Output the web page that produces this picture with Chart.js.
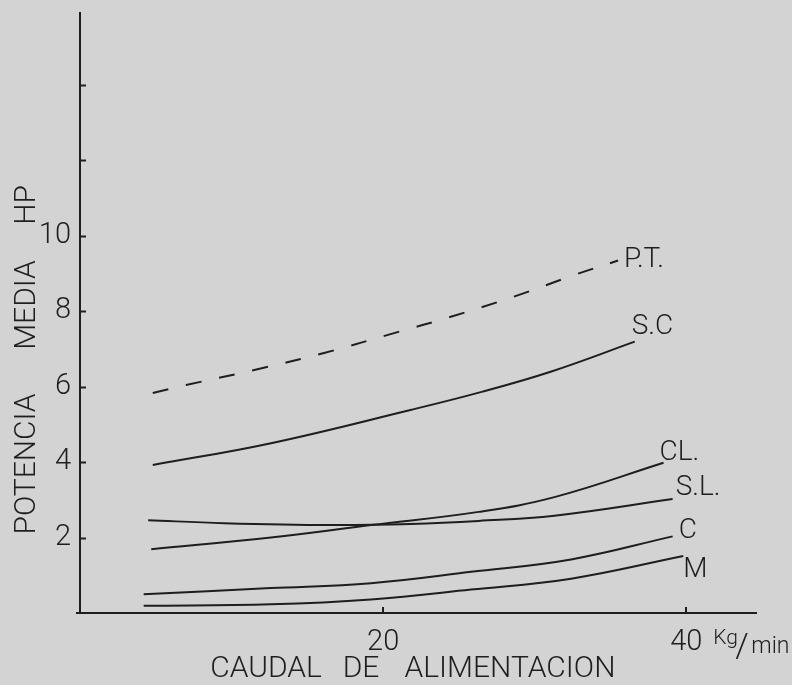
<!DOCTYPE html>
<html>
<head>
<meta charset="utf-8">
<script src="https://cdn.jsdelivr.net/npm/chart.js@4/dist/chart.umd.min.js"></script>
<style>
  html, body { margin: 0; padding: 0; background: #d3d3d3; }
  canvas { display: block; }
</style>
</head>
<body>
<canvas id="chart" width="792" height="685"></canvas>
<script>
// Values (x in Kg/min, y in HP)
const ptX = [4.8, 7.0, 11.5, 16.1, 21.0, 24.3, 28.6, 32.7, 35.5];
const ptY = [5.83, 6.04, 6.44, 6.89, 7.45, 7.83, 8.38, 8.97, 9.34];

const scX = [4.8, 12.6, 21.8, 26.5, 31.1, 36.6];
const scY = [3.92, 4.5, 5.38, 5.86, 6.4, 7.19];

const clX = [4.7, 12.6, 19.2, 26.3, 31.3, 38.5];
const clY = [1.69, 2.0, 2.33, 2.68, 3.07, 3.98];

const slX = [4.5, 9.5, 16.5, 21.8, 26.3, 31.3, 39.1];
const slY = [2.46, 2.38, 2.33, 2.36, 2.44, 2.58, 3.02];

const cX = [4.2, 12.6, 19.2, 25.8, 32.4, 39.1];
const cY = [0.5, 0.66, 0.79, 1.09, 1.42, 2.03];

const mX = [4.2, 12.6, 19.2, 25.8, 32.4, 39.8];
const mY = [0.19, 0.23, 0.36, 0.62, 0.91, 1.51];

const seriesNames = ['P.T.', 'S.C', 'CL.', 'S.L.', 'C', 'M'];
const xTicks = [20, 40];
const yTicks = [2, 4, 6, 8, 10, 12, 14];
const yTickLabels = [2, 4, 6, 8, 10];
const xTitleWords = ['CAUDAL', 'DE', 'ALIMENTACION'];
const yTitleWords = ['POTENCIA', 'MEDIA', 'HP'];

const ink = '#1e1e1e';
const font = 'Roboto, "DejaVu Sans", sans-serif';

function points(xs, ys) {
    return xs.map((x, i) => ({ x: x, y: ys[i] }));
}

// where each end label sits relative to its line's last point
const labelOffsets = [[6, -1], [-3, -15], [-4, -10], [3, -11], [6, -5], [0, 14]];
// word centres of the hand-lettered axis titles
const xTitlePos = [266, 361, 510];
const yTitlePos = [464, 305, 205];

const decorations = {
    id: 'decorations',
    beforeDraw(chart) {
        const ctx = chart.ctx;
        ctx.save();
        ctx.fillStyle = '#d3d3d3';
        ctx.fillRect(0, 0, chart.width, chart.height);
        ctx.restore();
    },
    afterDraw(chart) {
        const ctx = chart.ctx;
        const xs = chart.scales.x;
        const ys = chart.scales.y;
        const area = chart.chartArea;
        ctx.save();
        ctx.strokeStyle = ink;
        ctx.lineWidth = 2;

        // x axis runs a little past the y axis on the left
        ctx.beginPath();
        ctx.moveTo(area.left - 4, area.bottom);
        ctx.lineTo(area.left, area.bottom);
        ctx.stroke();

        // tick marks point into the plot
        yTicks.forEach(v => {
            const py = Math.round(ys.getPixelForValue(v)) + 0.5;
            ctx.beginPath();
            ctx.moveTo(area.left, py);
            ctx.lineTo(area.left + 6, py);
            ctx.stroke();
        });
        xTicks.forEach(v => {
            const px = Math.round(xs.getPixelForValue(v));
            ctx.beginPath();
            ctx.moveTo(px, area.bottom);
            ctx.lineTo(px, area.bottom - 6);
            ctx.stroke();
        });

        ctx.fillStyle = ink;

        // labels at the end of each curve
        ctx.font = '300 28px ' + font;
        ctx.textAlign = 'left';
        ctx.textBaseline = 'middle';
        chart.data.datasets.forEach((ds, i) => {
            const pts = chart.getDatasetMeta(i).data;
            const last = pts[pts.length - 1];
            ctx.fillText(seriesNames[i], last.x + labelOffsets[i][0], last.y + labelOffsets[i][1]);
        });

        // unit after the 40 tick
        const x40 = xs.getPixelForValue(40);
        ctx.textBaseline = 'alphabetic';
        ctx.font = '300 21px ' + font;
        ctx.fillText('Kg', x40 + 27, 644);
        ctx.font = '300 34px ' + font;
        ctx.fillText('/', x40 + 49, 657);
        ctx.font = '300 23px ' + font;
        ctx.fillText('min', x40 + 65, 653);

        // axis titles
        ctx.font = '300 30px ' + font;
        ctx.textAlign = 'center';
        ctx.textBaseline = 'middle';
        xTitleWords.forEach((w, i) => ctx.fillText(w, xTitlePos[i], 669));

        ctx.rotate(-Math.PI / 2);
        yTitleWords.forEach((w, i) => ctx.fillText(w, -yTitlePos[i], 27));
        ctx.restore();
    }
};

function lineSet(xs, ys, dashed) {
    return {
        data: points(xs, ys),
        borderColor: ink,
        borderWidth: 2,
        borderDash: dashed ? [16, 18] : [],
        pointRadius: 0,
        fill: false,
        tension: 0.4
    };
}

new Chart(document.getElementById('chart'), {
    type: 'line',
    data: {
        datasets: [
            lineSet(ptX, ptY, true),
            lineSet(scX, scY, false),
            lineSet(clX, clY, false),
            lineSet(slX, slY, false),
            lineSet(cX, cY, false),
            lineSet(mX, mY, false)
        ]
    },
    options: {
        responsive: false,
        devicePixelRatio: 1,
        animation: false,
        layout: { padding: { top: 13, right: 36, left: 0, bottom: 0 } },
        plugins: {
            legend: { display: false },
            tooltip: { enabled: false }
        },
        scales: {
            x: {
                type: 'linear',
                min: 0,
                max: 44.6,
                afterFit: s => { s.height = 72; s.paddingLeft = 0; s.paddingRight = 0; },
                grid: { display: false, drawTicks: false },
                border: { display: true, color: ink, width: 2 },
                ticks: {
                    stepSize: 20,
                    includeBounds: false,
                    autoSkip: false,
                    padding: 12,
                    color: ink,
                    font: { family: font, size: 29, weight: 300 },
                    maxRotation: 0,
                    callback: v => xTicks.includes(v) ? v : ''
                }
            },
            y: {
                type: 'linear',
                min: 0,
                max: 15.9,
                afterFit: s => { s.width = 80; s.paddingTop = 0; s.paddingBottom = 0; },
                grid: { display: false, drawTicks: false },
                border: { display: true, color: ink, width: 2 },
                ticks: {
                    stepSize: 2,
                    includeBounds: false,
                    autoSkip: false,
                    padding: 9,
                    color: ink,
                    font: { family: font, size: 29, weight: 300 },
                    callback: v => yTickLabels.includes(v) ? v : ''
                }
            }
        }
    },
    plugins: [decorations]
});
</script>
</body>
</html>
